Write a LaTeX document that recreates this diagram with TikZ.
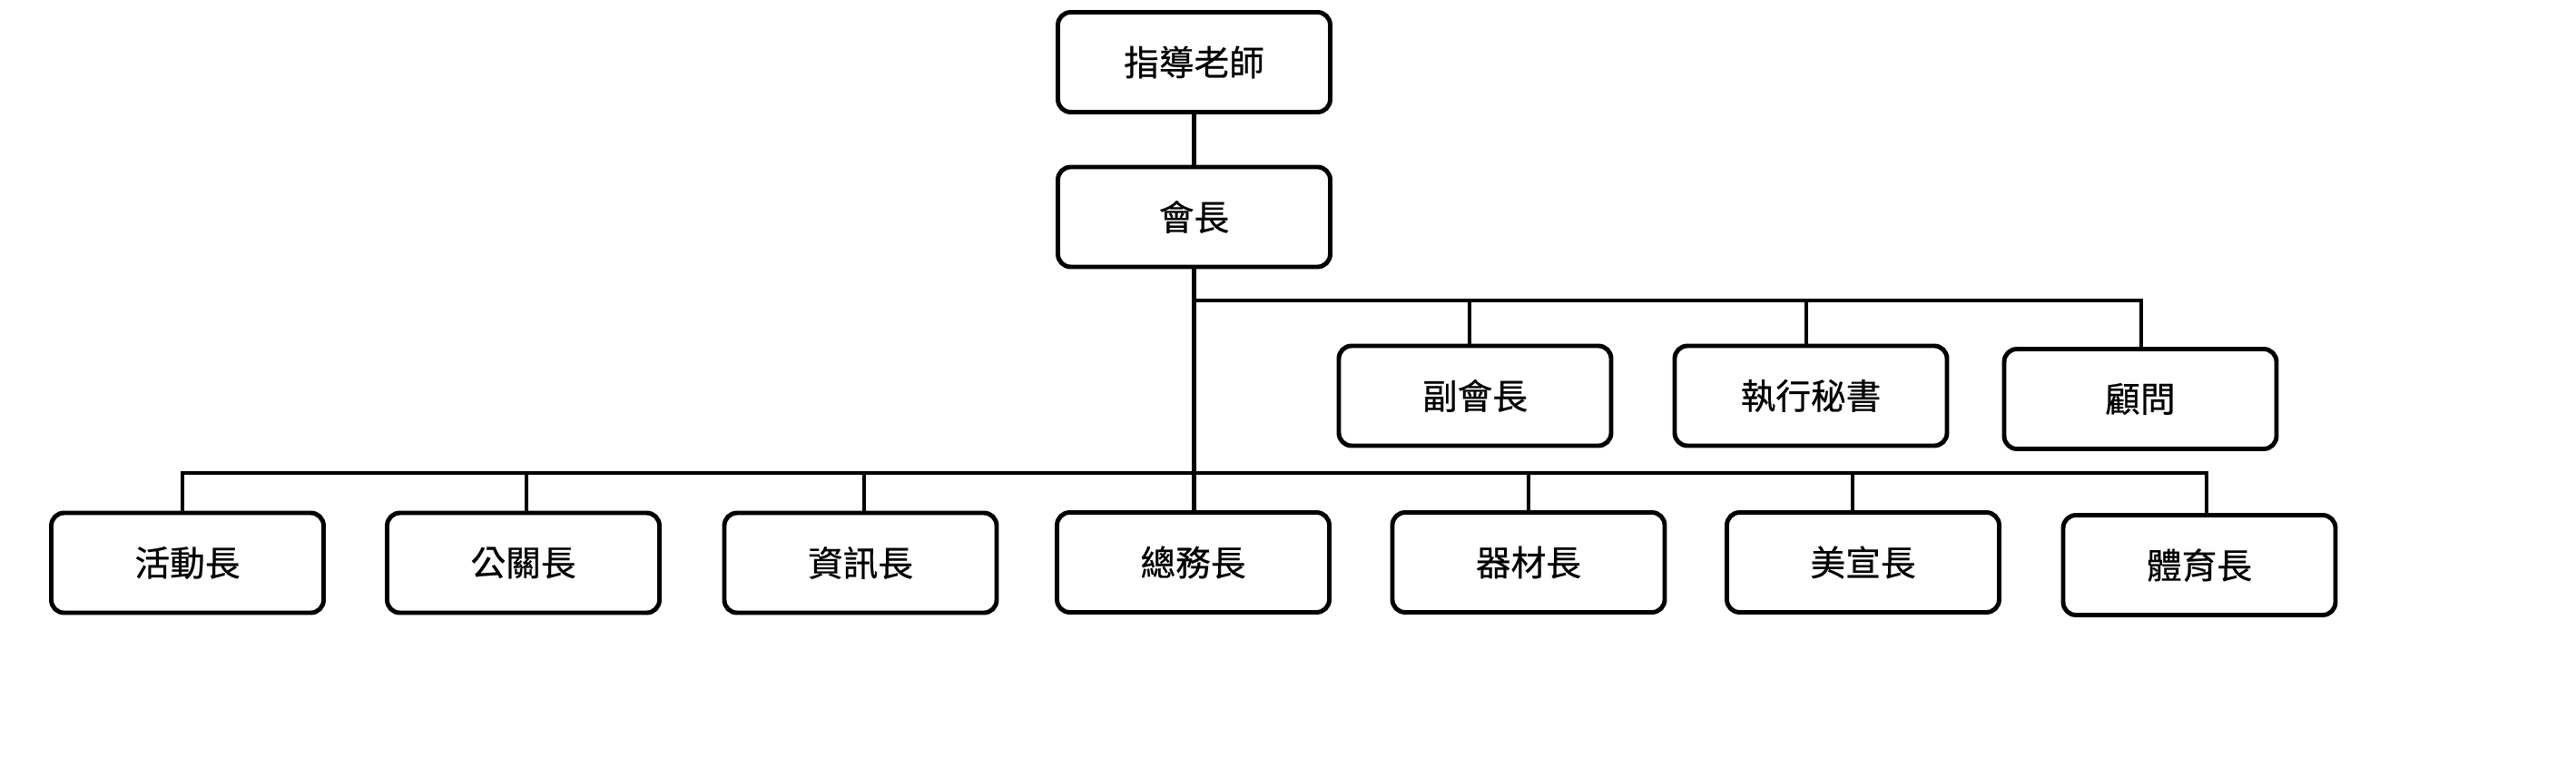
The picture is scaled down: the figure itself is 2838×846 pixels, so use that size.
\documentclass[tikz,border=0pt]{standalone}
\usepackage{fontspec}
\newfontfamily\cjk{Noto Sans CJK TC}[FakeBold=0.6]
\begin{document}
\begin{tikzpicture}[x=0.25mm,y=-0.25mm,
  box/.style={draw=black,line width=3.5pt,rounded corners=10pt,fill=white,
    minimum width=75mm,minimum height=27.5mm,inner sep=0pt,
    font=\cjk\fontsize{27.5pt}{30pt}\selectfont},
  link/.style={draw=black,line width=3.1pt}]
\useasboundingbox[fill=white] (0,0) rectangle (2838,846);
% nodes
\node[box] (adv) at (1315.5,68.5) {指導老師};
\node[box] (pres) at (1315.5,239) {會長};
\node[box] (vp) at (1625,436) {副會長};
\node[box] (sec) at (1995,436) {執行秘書};
\node[box] (cons) at (2358,439.5) {顧問};
\node[box] (act) at (206.5,620) {活動長};
\node[box] (pr) at (576.5,620) {公關長};
\node[box] (info) at (948,620) {資訊長};
\node[box] (gen) at (1314.5,619.5) {總務長};
\node[box] (equip) at (1684,619.5) {器材長};
\node[box] (art) at (2052.5,619.5) {美宣長};
\node[box] (pe) at (2423,622.5) {體育長};
% bar levels
\coordinate (ub) at (0,331);
\coordinate (lb) at (0,521);
% connectors
\draw[link] (adv.south) -- (pres.north);
\draw[link] (pres.south) -- (pres.south |- gen.north);
\draw[link] (pres.south |- ub) -- ([xshift=0.25mm]cons.north |- ub) -- ([xshift=0.25mm]cons.north);
\draw[link] ([xshift=-1.5mm]vp.north) -- ([xshift=-1.5mm]vp.north |- ub);
\draw[link] ([xshift=-1.25mm]sec.north) -- ([xshift=-1.25mm]sec.north |- ub);
\draw[link] ([xshift=-1.4mm]act.north) -- ([xshift=-1.4mm]act.north |- lb) -- ([xshift=2mm]pe.north |- lb) -- ([xshift=2mm]pe.north);
\draw[link] ([xshift=0.9mm]pr.north) -- ([xshift=0.9mm]pr.north |- lb);
\draw[link] ([xshift=1mm]info.north) -- ([xshift=1mm]info.north |- lb);
\draw[link] (equip.north) -- (equip.north |- lb);
\draw[link] ([xshift=-2.9mm]art.north) -- ([xshift=-2.9mm]art.north |- lb);
\end{tikzpicture}
\end{document}
